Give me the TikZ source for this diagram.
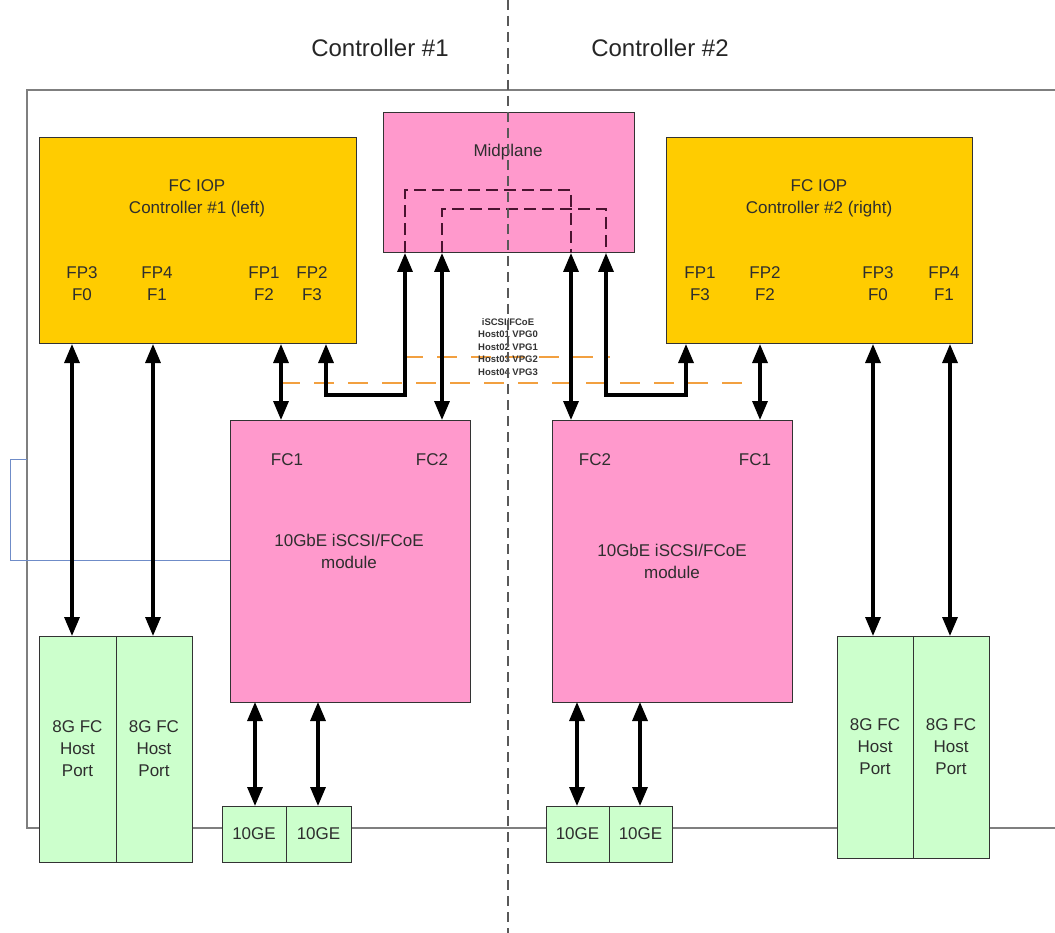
\documentclass[tikz,border=0pt]{standalone}
\usepackage{fontspec}
\setmainfont{Liberation Sans}
\usetikzlibrary{arrows.meta,calc}
\definecolor{gold}{HTML}{FFCC00}
\definecolor{pinkm}{HTML}{FF99CC}
\definecolor{greenp}{HTML}{CCFFCC}
\definecolor{outergray}{HTML}{7F7F7F}
\definecolor{maroon}{HTML}{4A1430}
\definecolor{orangel}{HTML}{F2A040}
\definecolor{bluel}{HTML}{6F8CC8}
\definecolor{txtc}{HTML}{2E2E2E}
\begin{document}
\begin{tikzpicture}[x=1pt,y=-1pt,
  box/.style={draw=black!80, line width=1pt, inner sep=0pt, outer sep=0pt, anchor=north west},
  txt/.style={font=\fontsize{17}{22}\selectfont, text=txtc, inner sep=0pt, align=center},
  ttl/.style={font=\fontsize{24}{28}\selectfont, text=black!85, inner sep=0pt},
  small/.style={font=\fontsize{9.5}{12.5}\selectfont\bfseries, text=black!80, inner sep=0pt, align=center},
  bi/.style={line width=3.3pt, black, {Triangle[length=19pt,width=15pt]}-{Triangle[length=19pt,width=15pt]}},
  mpdash/.style={line width=2pt, maroon, dash pattern=on 12pt off 6pt},
  orl/.style={line width=1.2pt, orangel, dash pattern=on 20pt off 14pt},
  outer/.style={line width=1.6pt, outergray},
  centerl/.style={line width=1.6pt, black!65, dash pattern=on 10pt off 6pt},
  bluelink/.style={line width=1pt, bluel}
]
\useasboundingbox (0,0) rectangle (1055,933);
\fill[white] (0,0) rectangle (1055,933);

% outer enclosure
\draw[outer] (1055,90) -- (27,90) -- (27,828) -- (1055,828);

% titles
\node[ttl] (title1) at (380,48) {Controller \#1};
\node[ttl] (title2) at (660,48) {Controller \#2};

% main boxes
\node[box, fill=gold, minimum width=317pt, minimum height=206pt] (iopL) at (39,138) {};
\node[box, fill=gold, minimum width=306pt, minimum height=206pt] (iopR) at (666,138) {};
\node[box, fill=pinkm, minimum width=251pt, minimum height=140pt] (mid) at (383,113) {};
\node[box, fill=pinkm, minimum width=240pt, minimum height=282pt] (modL) at (230,420) {};
\node[box, fill=pinkm, minimum width=240pt, minimum height=282pt] (modR) at (552,420) {};

% host ports
\node[box, fill=greenp, minimum width=77pt, minimum height=226pt] (hpL1) at (39,636) {};
\node[box, fill=greenp, minimum width=76pt, minimum height=226pt] (hpL2) at (116,636) {};
\node[box, fill=greenp, minimum width=76pt, minimum height=222pt] (hpR1) at (837,636) {};
\node[box, fill=greenp, minimum width=76pt, minimum height=222pt] (hpR2) at (913,636) {};
\node[txt] (hpL1t) at (hpL1.center) {8G FC\\Host\\Port};
\node[txt] (hpL2t) at (hpL2.center) {8G FC\\Host\\Port};
\node[txt] (hpR1t) at (hpR1.center) {8G FC\\Host\\Port};
\node[txt] (hpR2t) at (hpR2.center) {8G FC\\Host\\Port};

% 10GE ports
\node[box, fill=greenp, minimum width=64pt, minimum height=56pt] (geL1) at (222,806) {};
\node[box, fill=greenp, minimum width=65pt, minimum height=56pt] (geL2) at (286,806) {};
\node[box, fill=greenp, minimum width=63pt, minimum height=56pt] (geR1) at (546,806) {};
\node[box, fill=greenp, minimum width=63pt, minimum height=56pt] (geR2) at (609,806) {};
\node[txt] (geL1t) at (geL1.center) {10GE};
\node[txt] (geL2t) at (geL2.center) {10GE};
\node[txt] (geR1t) at (geR1.center) {10GE};
\node[txt] (geR2t) at (geR2.center) {10GE};

% texts in IOP boxes
\node[txt] (iopLt) at (197,198) {FC IOP\\Controller \#1 (left)};
\node[txt] (iopRt) at (819,198) {FC IOP\\Controller \#2 (right)};
\node[txt] (lp3) at (82,284) {FP3\\F0};
\node[txt] (lp4) at (157,284) {FP4\\F1};
\node[txt] (lp1) at (264,284) {FP1\\F2};
\node[txt] (lp2) at (312,284) {FP2\\F3};
\node[txt] (rp1) at (700,284) {FP1\\F3};
\node[txt] (rp2) at (765,284) {FP2\\F2};
\node[txt] (rp3) at (878,284) {FP3\\F0};
\node[txt] (rp4) at (944,284) {FP4\\F1};

% midplane + module texts
\node[txt] (midt) at (508,152) {Midplane};
\node[txt] (mLfc1) at (287,460) {FC1};
\node[txt] (mLfc2) at (432,460) {FC2};
\node[txt] (mLt) at (349,551) {10GbE iSCSI/FCoE\\module};
\node[txt] (mRfc2) at (595,460) {FC2};
\node[txt] (mRfc1) at (755,460) {FC1};
\node[txt] (mRt) at (672,561) {10GbE iSCSI/FCoE\\module};

% coordinates for connectors
\coordinate (xa) at (72,0);
\coordinate (xb) at (153,0);
\coordinate (xc) at (281,0);
\coordinate (bL1) at (326,395);
\coordinate (bL2) at (405,395);
\coordinate (xd) at (442,0);
\coordinate (xe) at (571,0);
\coordinate (bR1) at (606,395);
\coordinate (bR2) at (686,395);
\coordinate (xf) at (760,0);
\coordinate (xg) at (873,0);
\coordinate (xh) at (950,0);
\coordinate (xi) at (255,0);
\coordinate (xj) at (318,0);
\coordinate (xk) at (577,0);
\coordinate (xl) at (640,0);
\coordinate (mp1) at (405,190);
\coordinate (mp2) at (571,190);
\coordinate (mp3) at (442,209);
\coordinate (mp4) at (606,209);
\coordinate (bl1) at (10,560);
\coordinate (bl2) at (10,459);
\coordinate (bl3) at (27,459);

% blue link
\draw[bluelink] (modL.west |- bl1) -- (bl1) -- (bl2) -- (bl3);

% orange dashed lines
\draw[orl] (403,357) -- (610,357);
\draw[orl] (280,383) -- (753,383);

% vpg label
\node[small] (vpg) at (508,347) {iSCSI/FCoE\\Host01 VPG0\\Host02 VPG1\\Host03 VPG2\\Host04 VPG3};

% midplane internal dashed links
\draw[mpdash] (mid.south -| mp1) -- (mp1) -- (mp2) -- (mid.south -| mp2);
\draw[mpdash] (mid.south -| mp3) -- (mp3) -- (mp4) -- (mid.south -| mp4);

% arrows
\draw[bi] (iopL.south -| xa) -- (hpL1.north -| xa);
\draw[bi] (iopL.south -| xb) -- (hpL2.north -| xb);
\draw[bi] (iopL.south -| xc) -- (modL.north -| xc);
\draw[bi] (iopL.south -| bL1) -- (bL1) -- (bL2) -- (mid.south -| bL2);
\draw[bi] (mid.south -| xd) -- (modL.north -| xd);
\draw[bi] (mid.south -| xe) -- (modR.north -| xe);
\draw[bi] (mid.south -| bR1) -- (bR1) -- (bR2) -- (iopR.south -| bR2);
\draw[bi] (iopR.south -| xf) -- (modR.north -| xf);
\draw[bi] (iopR.south -| xg) -- (hpR1.north -| xg);
\draw[bi] (iopR.south -| xh) -- (hpR2.north -| xh);
\draw[bi] (modL.south -| xi) -- (geL1.north -| xi);
\draw[bi] (modL.south -| xj) -- (geL2.north -| xj);
\draw[bi] (modR.south -| xk) -- (geR1.north -| xk);
\draw[bi] (modR.south -| xl) -- (geR2.north -| xl);

% center divider
\coordinate (ctop) at (508,0);
\coordinate (cbot) at (508,933);
\draw[centerl] (ctop) -- (cbot);
\end{tikzpicture}
\end{document}
